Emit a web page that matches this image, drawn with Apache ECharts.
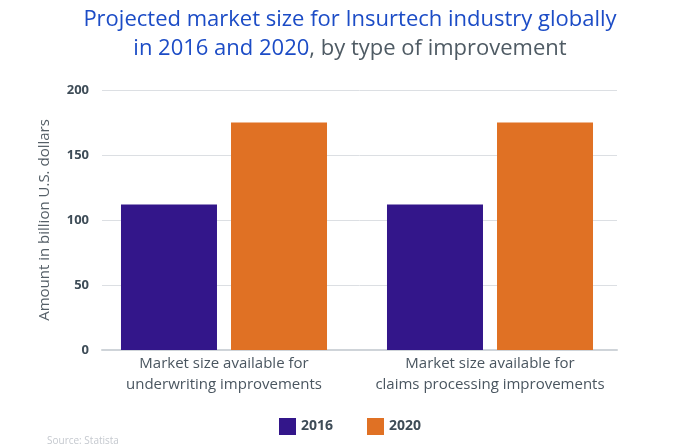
<!DOCTYPE html>
<html>
<head>
<meta charset="utf-8">
<script src="https://cdn.jsdelivr.net/npm/echarts@6/dist/echarts.min.js"></script>
<style>html,body{margin:0;padding:0;background:#fff}#c{width:700px;height:448px}</style>
</head>
<body>
<div id="c"></div>
<script>
const categories = ["Market size available for\nunderwriting improvements", "Market size available for\nclaims processing improvements"];
const series2016 = [112, 112];
const series2020 = [175, 175];
const yTicks = [0, 50, 100, 150, 200];

const FONT = "'Open Sans', sans-serif";
const chart = echarts.init(document.getElementById('c'), null, {renderer: 'canvas'});
chart.setOption({
  backgroundColor: '#ffffff',
  animation: false,
  textStyle: {fontFamily: FONT},
  title: [{
    text: '{b|Projected market size for Insurtech industry globally}\n{b|in 2016 and 2020}{g|, by type of improvement}',
    left: 'center', top: 0,
    textStyle: {
      fontWeight: 'normal',
      rich: {
        b: {color: '#1c4cc6', fontSize: 22, fontWeight: 'normal', fontFamily: FONT, lineHeight: 29},
        g: {color: '#4f5b64', fontSize: 22, fontWeight: 'normal', fontFamily: FONT, lineHeight: 29}
      }
    }
  }, {
    text: 'Source: Statista', left: 42, top: 431,
    textStyle: {color: '#c5c9cf', fontSize: 10, fontWeight: 'normal', fontFamily: FONT}
  }],
  legend: {
    data: ['2016', '2020'], left: 'center', top: 413,
    itemWidth: 17, itemHeight: 17, itemGap: 34,
    icon: 'rect',
    textStyle: {color: '#3e4c57', fontSize: 14, fontWeight: 'bold', fontFamily: FONT}
  },
  grid: [
    {left: 102, right: 83, top: 90, bottom: 98},
    {left: 91, right: 77, top: 90, bottom: 98}
  ],
  xAxis: [
    {type: 'category', gridIndex: 0, data: categories,
      axisLine: {show: true, lineStyle: {color: '#cfd4d9', width: 2}},
      axisTick: {show: false}, axisLabel: {show: false}},
    {type: 'category', gridIndex: 1, data: categories,
      axisLine: {show: false},
      axisTick: {show: false},
      axisLabel: {interval: 0, color: '#4a5660', fontSize: 15, lineHeight: 21, margin: 3, fontFamily: FONT}
    }
  ],
  yAxis: [
    {type: 'value', gridIndex: 0, min: 0, max: 200, interval: 50,
      name: 'Amount in billion U.S. dollars', nameLocation: 'middle', nameGap: 50,
      nameTextStyle: {color: '#555f67', fontSize: 15, fontFamily: FONT},
      axisLine: {show: false}, axisTick: {show: false},
      axisLabel: {color: '#3e4c57', fontSize: 13, fontWeight: 'bold', margin: 13, fontFamily: FONT,
        formatter: v => yTicks.includes(v) ? String(v) : ''},
      splitLine: {lineStyle: {color: '#dcdfe3', width: 1}}
    },
    {type: 'value', gridIndex: 1, min: 0, max: 200, interval: 50, show: false, splitLine: {show: false}}
  ],
  series: [
    {name: '2016', type: 'bar', xAxisIndex: 1, yAxisIndex: 1, data: series2016,
      barWidth: 96, barGap: '14.6%', itemStyle: {color: '#33168a'}},
    {name: '2020', type: 'bar', xAxisIndex: 1, yAxisIndex: 1, data: series2020,
      barWidth: 96, barGap: '14.6%', itemStyle: {color: '#e07124'}}
  ]
});
</script>
</body>
</html>
